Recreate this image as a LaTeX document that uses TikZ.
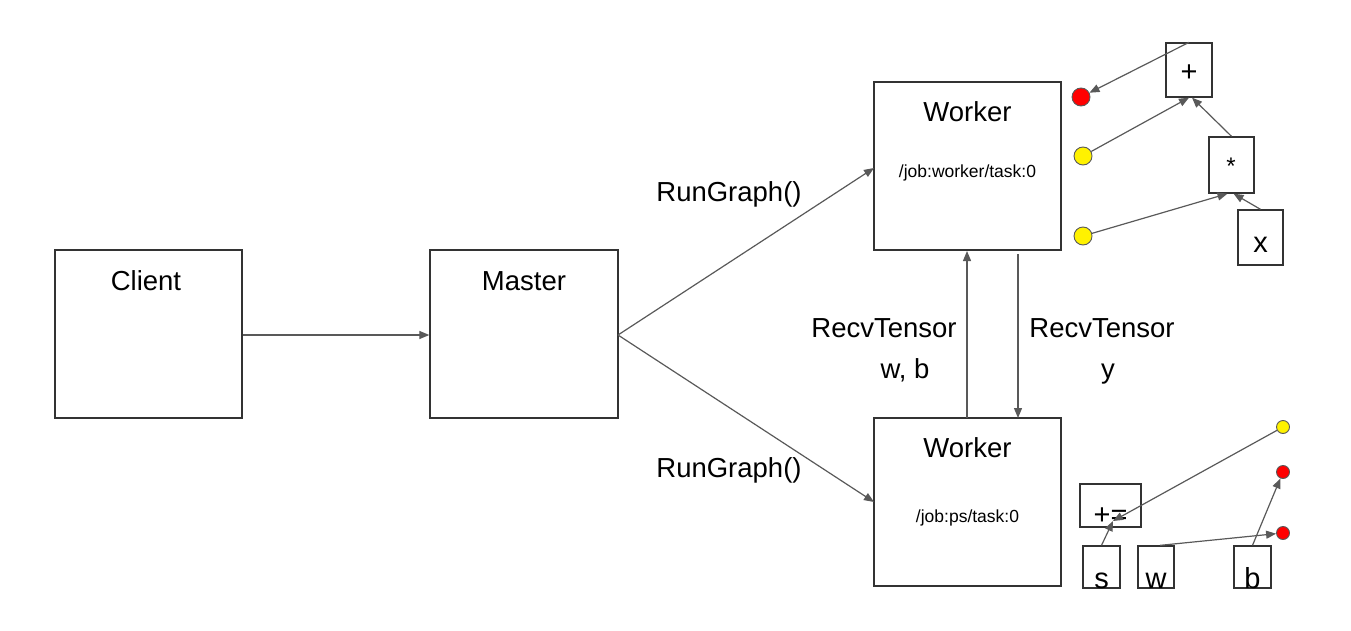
\documentclass[tikz,border=0pt]{standalone}
\usepackage{fontspec}
\setmainfont{Liberation Sans}
\usetikzlibrary{arrows.meta}
\definecolor{edgegray}{HTML}{595959}
\definecolor{boxline}{HTML}{333333}
\tikzset{
  box/.style={draw=boxline, line width=1.3pt, rectangle, inner sep=0pt},
  big/.style={font=\fontsize{27.5}{32}\selectfont, inner sep=0pt},
  small/.style={font=\fontsize{17.5}{21}\selectfont, inner sep=0pt},
  sym/.style={font=\fontsize{29}{34}\selectfont, inner sep=0pt},
  conn/.style={draw=edgegray, line width=1.2pt, -{Triangle[length=10pt,width=8pt]}},
  dot/.style={circle, draw=edgegray, line width=0.9pt, inner sep=0pt},
}
\begin{document}
\begin{tikzpicture}[x=1pt,y=-1pt]
\useasboundingbox (0,0) rectangle (1351,631);
% main boxes
\node[box, minimum width=187pt, minimum height=168pt] (client) at (148.5,334) {};
\node[box, minimum width=188pt, minimum height=168pt] (master) at (524,334) {};
\node[box, minimum width=187pt, minimum height=168pt] (w1) at (967.5,166) {};
\node[box, minimum width=187pt, minimum height=168pt] (w2) at (967.5,502) {};
\node[big] (clientlbl) at (146,281) {Client};
\node[big] (masterlbl) at (524,281) {Master};
\node[big] (w1lbl) at (967.5,112) {Worker};
\node[small] (w1sub) at (967.5,173) {/job:worker/task:0};
\node[big] (w2lbl) at (967.5,448) {Worker};
\node[small] (w2sub) at (967.5,518) {/job:ps/task:0};
% main connectors
\coordinate (mo) at (618,335);
\draw[conn] (client.east |- mo) -- (master.west |- mo);
\draw[conn] (mo) -- (874,168);
\draw[conn] (mo) -- (874,502);
\draw[conn] (967,418) -- (967,251);
\draw[conn] (1018,254) -- (1018,418);
\node[big] (rg1) at (729,194) {RunGraph()};
\node[big] (rg2) at (729,470) {RunGraph()};
\node[big, anchor=base] (rt1) at (884,337) {RecvTensor};
\node[big, anchor=base] (rt1b) at (905,378) {w, b};
\node[big, anchor=base] (rt2) at (1102,337) {RecvTensor};
\node[big, anchor=base] (rt2b) at (1108,378) {y};
% top-right graph
\node[dot, fill=red, minimum width=17pt, minimum height=18pt] (r1) at (1081,97) {};
\node[dot, fill=yellow, minimum width=18pt, minimum height=18pt] (y1) at (1083,156) {};
\node[dot, fill=yellow, minimum width=18pt, minimum height=18pt] (y2) at (1083,236) {};
\node[box, minimum width=46pt, minimum height=54pt] (plus) at (1189,70) {};
\node[box, minimum width=45pt, minimum height=56pt] (star) at (1231.5,165) {};
\node[box, minimum width=45pt, minimum height=55pt] (xb) at (1260.5,237.5) {};
\node[sym] (plusl) at (1189,73) {+};
\node[font=\fontsize{24}{28}\selectfont, inner sep=0pt] (starl) at (1231,166) {*};
\node[sym, anchor=base] (xl) at (1260.5,252) {x};
\draw[conn] (plus.north) -- (r1);
\draw[conn] (y1) -- (plus.south);
\draw[conn] (star.north) -- ([xshift=3pt]plus.south);
\draw[conn] (y2) -- ([xshift=-4pt]star.south);
\draw[conn] (xb.north) -- ([xshift=2pt]star.south);
% bottom-right graph
\node[dot, fill=yellow, minimum size=13pt] (y3) at (1283,427) {};
\node[dot, fill=red, minimum size=13pt] (r2) at (1283,472) {};
\node[dot, fill=red, minimum size=13pt] (r3) at (1283,533) {};
\node[box, minimum width=61pt, minimum height=43pt] (pe) at (1110.5,505.5) {};
\node[box, minimum width=37pt, minimum height=42pt] (sb) at (1101.5,567) {};
\node[box, minimum width=36pt, minimum height=42pt] (wb) at (1156,567) {};
\node[box, minimum width=37pt, minimum height=42pt] (bb) at (1252.5,567) {};
\node[sym, anchor=base] (pel) at (1110.5,524) {+=};
\node[sym, anchor=base] (sl) at (1101.5,588) {s};
\node[sym, anchor=base] (wl) at (1156,588) {w};
\node[sym, anchor=base] (bl) at (1252.5,588) {b};
\coordinate (pein) at (1113,521);
\draw[conn] (sb.north) -- (pein);
\draw[conn] (y3) -- (pein);
\draw[conn] ([xshift=4pt]wb.north) -- (r3);
\draw[conn] (bb.north) -- (r2);
\end{tikzpicture}
\end{document}
